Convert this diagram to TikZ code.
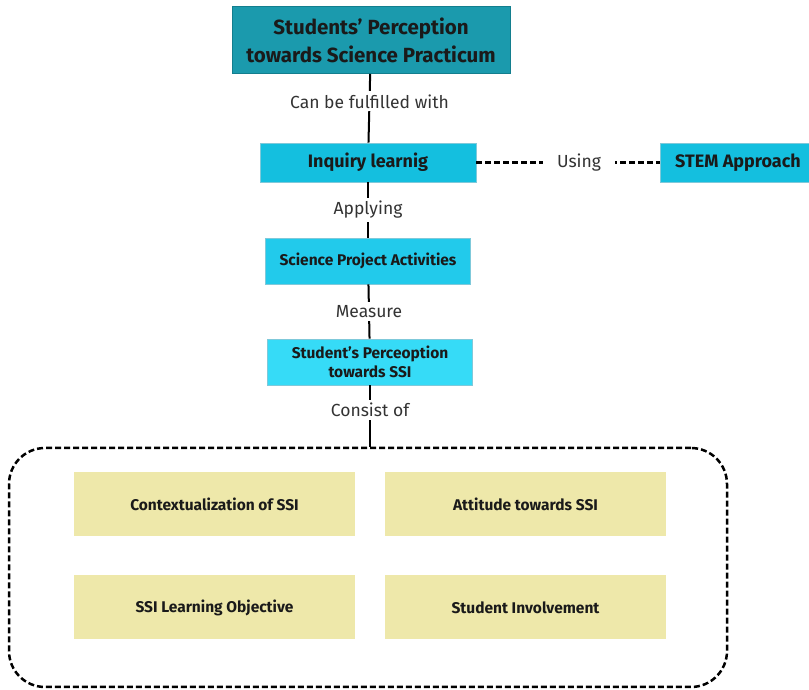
\documentclass[tikz,border=0pt]{standalone}
\usepackage{fontspec}
\setmainfont{Fira Sans}
\usetikzlibrary{shapes.geometric, arrows}
\definecolor{tealtop}{HTML}{1B9AAD}
\definecolor{tealedge}{HTML}{137E8E}
\definecolor{cyanmid}{HTML}{14BFDF}
\definecolor{cyanlow}{HTML}{22CAEB}
\definecolor{cyanpale}{HTML}{36DBF7}
\definecolor{cyanedge}{HTML}{7FC9DA}
\definecolor{sand}{HTML}{EEE8AA}
\definecolor{labelgray}{HTML}{333333}
\definecolor{textdark}{HTML}{1A1A1A}
\tikzstyle{topic} = [rectangle, minimum width=278pt, minimum height=67pt, text centered, align=center, draw=tealedge, line width=1pt, fill=tealtop, text=textdark, font=\bfseries\fontsize{20.5}{28}\selectfont]
\tikzstyle{method} = [rectangle, minimum width=216pt, minimum height=39pt, text centered, draw=cyanedge, line width=0.8pt, fill=cyanmid, text=textdark, font=\bfseries\fontsize{18}{20}\selectfont]
\tikzstyle{activity} = [rectangle, minimum width=205pt, minimum height=46pt, text centered, align=center, draw=cyanedge, line width=0.8pt, fill=cyanlow, text=textdark, font=\bfseries\fontsize{15.5}{19}\selectfont]
\tikzstyle{factor} = [rectangle, minimum width=281pt, minimum height=64pt, text centered, fill=sand, text=textdark, font=\bfseries\fontsize{15.5}{18}\selectfont]
\tikzstyle{group} = [rectangle, rounded corners=36pt, minimum width=718pt, minimum height=239pt, draw=black, line width=2.5pt, dash pattern=on 6pt off 3pt]
\tikzstyle{link} = [line width=2pt]
\tikzstyle{dlink} = [line width=2.5pt, dash pattern=on 6pt off 3pt]
\tikzstyle{tag} = [fill=white, inner sep=3pt, text=labelgray, font=\fontsize{17.5}{20}\selectfont]

\begin{document}
\begin{tikzpicture}[x=1pt, y=1pt]
  \useasboundingbox (0,0) rectangle (809,690);
  \node (top) [topic] at (371,650) {Students’ Perception\\towards Science Practicum};
  \node (inq) [method, below of=top, node distance=122.5pt, xshift=-3pt] {Inquiry learnig};
  \node (stem) [method, right of=inq, node distance=370pt, minimum width=156pt] {STEM Approach};
  \node (sci) [activity, below of=inq, node distance=98.5pt] {Science Project Activities};
  \node (ssi) [activity, below of=sci, node distance=101pt, xshift=2pt, fill=cyanpale] {Student’s Perceoption\\towards SSI};
  \node (box) [group] at (368,122.5) {};
  \node (ctx) [factor] at (214.5,186) {Contextualization of SSI};
  \node (att) [factor, right of=ctx, node distance=311pt] {Attitude towards SSI};
  \node (obj) [factor, below of=ctx, node distance=103.5pt] {SSI Learning Objective};
  \node (inv) [factor, right of=obj, node distance=311pt] {Student Involvement};

  \draw [link] (top) -- node [tag, pos=0.4] {Can be fulfilled with} (inq);
  \draw [dlink] (inq) -- node [tag, pos=0.56, inner sep=14pt] {Using} (stem);
  \draw [link] (inq) -- node [tag] {Applying} (sci);
  \draw [link] (sci) -- node [tag] {Measure} (ssi);
  \draw [link] (ssi.south) -- node [tag, pos=0.4] {Consist of} (ssi.south |- box.north);
\end{tikzpicture}
\end{document}
